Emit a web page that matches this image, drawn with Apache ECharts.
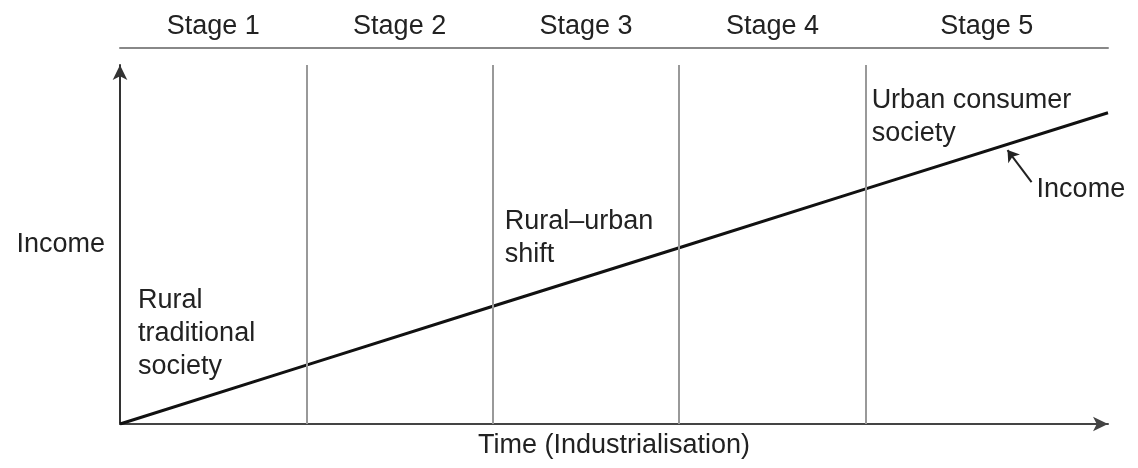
<!DOCTYPE html>
<html>
<head>
<meta charset="utf-8">
<script src="https://cdn.jsdelivr.net/npm/echarts@6/dist/echarts.min.js"></script>
<style>
html,body{margin:0;padding:0;background:#fff;}
#chart{width:1138px;height:468px;}
</style>
</head>
<body>
<div id="chart"></div>
<script>
// Data
const stageNames = ['Stage 1', 'Stage 2', 'Stage 3', 'Stage 4', 'Stage 5'];
const stageCenters = [0.5, 1.5, 2.5, 3.5, 4.65];
const stageBounds = [1, 2, 3, 4];
const timeValues = [0, 1, 2, 3, 4, 5.3];
const incomeValues = [0, 16.4, 32.8, 49.1, 65.5, 86.7];
const annotationTexts = ['Rural\ntraditional\nsociety', 'Rural\u2013urban\nshift', 'Urban consumer\nsociety', 'Income'];
const annotationAnchors = [[0.097, 39.1], [2.064, 60.9], [4.032, 94.8], [4.917, 69.8]];
const incomeArrow = [[4.89, 67.4], [4.761, 76.3]];

const FONT = '"Liberation Sans", Arial, sans-serif';
const TXT = '#222';

const chart = echarts.init(document.getElementById('chart'), null, {renderer: 'canvas'});
chart.setOption({
  animation: false,
  backgroundColor: '#fff',
  textStyle: {fontFamily: FONT},
  grid: {left: 120, right: 30, top: 65, bottom: 44, containLabel: false},
  xAxis: [
    {
      type: 'value', min: 0, max: 5.3, position: 'bottom',
      name: 'Time (Industrialisation)', nameLocation: 'middle', nameGap: 8,
      nameTextStyle: {fontSize: 27, color: TXT, fontFamily: FONT, verticalAlign: 'top'},
      axisLine: {show: true, symbol: ['none', 'arrow'], symbolSize: [11, 15], lineStyle: {color: '#444', width: 2}},
      axisTick: {show: false}, axisLabel: {show: false}, splitLine: {show: false}
    },
    {
      type: 'value', min: 0, max: 5.3, position: 'top', offset: 17,
      axisLine: {show: true, onZero: false, lineStyle: {color: '#888', width: 2}},
      axisTick: {show: false}, splitLine: {show: false},
      axisLabel: {
        show: true, customValues: stageCenters, margin: 8,
        fontSize: 27, color: TXT, fontFamily: FONT,
        formatter: function (v) {
          let best = 0;
          for (let i = 1; i < stageCenters.length; i++) {
            if (Math.abs(stageCenters[i] - v) < Math.abs(stageCenters[best] - v)) best = i;
          }
          return stageNames[best];
        }
      }
    }
  ],
  yAxis: {
    type: 'value', min: 0, max: 100,
    name: 'Income', nameLocation: 'middle', nameRotate: 0, nameGap: 15,
    nameTextStyle: {fontSize: 27, color: TXT, fontFamily: FONT, align: 'right', verticalAlign: 'middle'},
    axisLine: {show: true, symbol: ['none', 'arrow'], symbolSize: [11, 15], lineStyle: {color: '#333', width: 2}},
    axisTick: {show: false}, axisLabel: {show: false}, splitLine: {show: false}
  },
  series: [
    {
      name: 'Income', type: 'line', xAxisIndex: 0,
      data: timeValues.map((t, i) => [t, incomeValues[i]]),
      showSymbol: false, symbol: 'none',
      lineStyle: {color: '#111', width: 3},
      markLine: {
        silent: true, symbol: ['none', 'none'], label: {show: false},
        lineStyle: {color: '#999', width: 2, type: 'solid'},
        data: stageBounds.map(b => ({xAxis: b}))
      },
      z: 3
    },
    {
      name: 'annotations', type: 'scatter', xAxisIndex: 0,
      symbolSize: 0, silent: true,
      itemStyle: {opacity: 1},
      data: annotationAnchors.map((p, i) => ({value: p, name: annotationTexts[i]})),
      label: {
        show: true, position: [0, 0], align: 'left', verticalAlign: 'top',
        fontSize: 27, lineHeight: 33, color: TXT, opacity: 1, fontFamily: FONT,
        formatter: p => p.name
      },
      markLine: {
        silent: true, symbol: ['none', 'arrow'], symbolSize: 11, label: {show: false},
        lineStyle: {color: '#222', width: 2, type: 'solid', opacity: 1},
        data: [[{coord: incomeArrow[0]}, {coord: incomeArrow[1]}]]
      }
    }
  ]
});
</script>
</body>
</html>
